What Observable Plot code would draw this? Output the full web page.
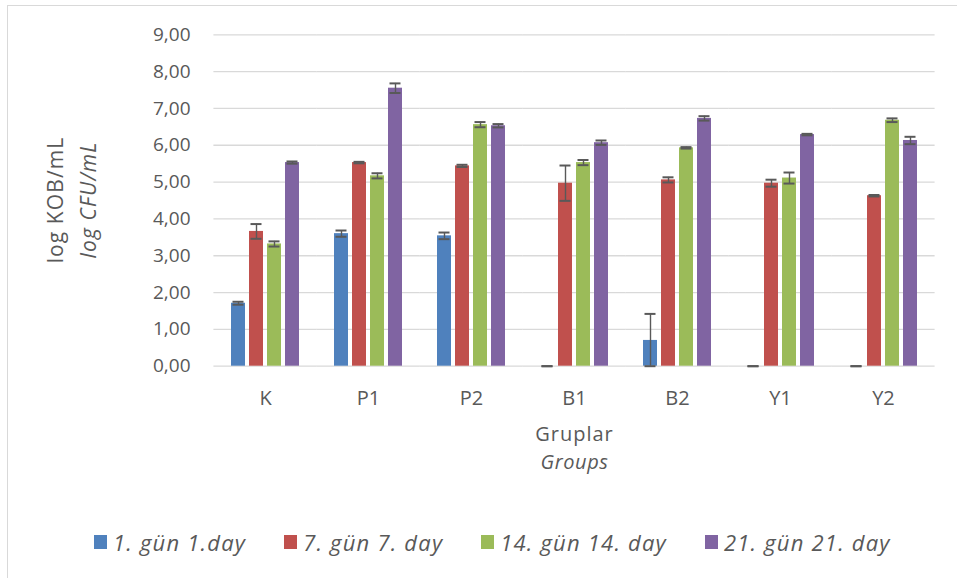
<!DOCTYPE html>
<html>
<head>
<meta charset="utf-8">
<script src="https://cdn.jsdelivr.net/npm/d3@7"></script>
<script src="https://cdn.jsdelivr.net/npm/@observablehq/plot@0.6"></script>
<style>
  body { margin: 0; background: #fff; }
  #wrap { position: relative; width: 957px; height: 578px; overflow: hidden; font-family: "Open Sans", sans-serif; color: #595959; }
  #frame { position: absolute; left: 7px; top: 5px; width: 1000px; height: 1000px; border-left: 1.5px solid #d9d9d9; border-top: 1.5px solid #d9d9d9; pointer-events: none; }
  #chart { position: absolute; left: 0; top: 0; }
  #legend { position: absolute; left: 94px; top: 527px; display: flex; align-items: center; gap: 38px; font-style: italic; font-size: 22px; letter-spacing: 1.2px; white-space: nowrap; }
  #legend .item { display: flex; align-items: center; gap: 6px; }
  #legend .sw { width: 13px; height: 14px; display: inline-block; }
</style>
</head>
<body>
<div id="wrap">
  <div id="chart"></div>
  <div id="legend"></div>
  <div id="frame"></div>
</div>
<script>
const groups = ["K", "P1", "P2", "B1", "B2", "Y1", "Y2"];
const series = ["1. gün 1.day", "7. gün 7. day", "14. gün 14. day", "21. gün 21. day"];
const colors = ["#4F81BD", "#C0504D", "#9BBB59", "#8064A2"];

const day1  = [1.71, 3.60, 3.54, 0.00, 0.70, 0.00, 0.00];
const day7  = [3.66, 5.53, 5.44, 4.97, 5.06, 4.97, 4.63];
const day14 = [3.32, 5.17, 6.56, 5.53, 5.93, 5.11, 6.68];
const day21 = [5.53, 7.55, 6.53, 6.07, 6.73, 6.29, 6.13];

const err1  = [0.04, 0.085, 0.09, 0.00, 0.72, 0.00, 0.00];
const err7  = [0.20, 0.02, 0.03, 0.48, 0.07, 0.095, 0.02];
const err14 = [0.07, 0.07, 0.07, 0.07, 0.02, 0.15, 0.05];
const err21 = [0.03, 0.13, 0.045, 0.06, 0.06, 0.02, 0.10];

const yTicks = [0, 1, 2, 3, 4, 5, 6, 7, 8, 9];
const yTitle1 = "log KOB/mL";
const yTitle2 = "log CFU/mL";
const xTitle1 = "Gruplar";
const xTitle2 = "Groups";

const values = [day1, day7, day14, day21];
const errors = [err1, err7, err14, err21];
const data = [];
groups.forEach((g, gi) => {
  series.forEach((s, si) => {
    data.push({group: g, series: s, v: values[si][gi], e: errors[si][gi]});
  });
});

const ink = "#595959";
const chart = Plot.plot({
  width: 957,
  height: 500,
  marginLeft: 211,
  marginRight: 19,
  marginTop: 34.3,
  marginBottom: 134.3,
  style: { fontFamily: "Open Sans, sans-serif", fontSize: "19px", color: ink, background: "transparent" },
  fx: { domain: groups, paddingInner: 0.317, paddingOuter: 0.1585, axis: null },
  x: { domain: series, paddingInner: 0.22, paddingOuter: 0, axis: null },
  y: { domain: [0, 9], axis: null },
  color: { domain: series, range: colors },
  marks: [
    Plot.ruleY(yTicks, { stroke: "#d9d9d9", strokeWidth: 1.3, insetLeft: -16.6, insetRight: -16.6 }),
    Plot.axisY({ ticks: yTicks, tickFormat: d => d.toFixed(2).replace(".", ","), label: null, tickSize: 0, tickPadding: 40 }),
    Plot.axisFx({ anchor: "bottom", label: null, tickSize: 0, tickPadding: 25, fontSize: "20px" }),
    Plot.barY(data, { fx: "group", x: "series", y: "v", fill: "series" }),
    Plot.ruleX(data, { fx: "group", x: "series", y1: d => Math.max(0, d.v - d.e), y2: d => d.v + d.e, stroke: ink, strokeWidth: 1.4 }),
    Plot.tickY(data, { fx: "group", x: "series", y: d => d.v + d.e, stroke: ink, strokeWidth: 2, insetLeft: 1.5, insetRight: 1.5 }),
    Plot.tickY(data, { fx: "group", x: "series", y: d => Math.max(0, d.v - d.e), stroke: ink, strokeWidth: 2, insetLeft: 1.5, insetRight: 1.5 })
  ]
});
document.getElementById("chart").appendChild(chart);

const svg = d3.select(chart);
const yc = 200;
svg.append("text")
  .attr("transform", `translate(63,${yc}) rotate(-90)`)
  .attr("text-anchor", "middle").attr("fill", ink)
  .style("font-size", "21px").style("letter-spacing", "1.1px").text(yTitle1);
svg.append("text")
  .attr("transform", `translate(96,${yc}) rotate(-90)`)
  .attr("text-anchor", "middle").attr("fill", ink)
  .style("font-size", "21px").style("letter-spacing", "1.1px").style("font-style", "italic").text(yTitle2);
svg.append("text")
  .attr("x", 574.5).attr("y", 441)
  .attr("text-anchor", "middle").attr("fill", ink)
  .style("font-size", "20px").style("letter-spacing", "1px").text(xTitle1);
svg.append("text")
  .attr("x", 574.5).attr("y", 469)
  .attr("text-anchor", "middle").attr("fill", ink)
  .style("font-size", "20px").style("letter-spacing", "0.6px").style("font-style", "italic").text(xTitle2);

const legend = d3.select("#legend");
series.forEach((s, i) => {
  const item = legend.append("div").attr("class", "item");
  item.append("span").attr("class", "sw").style("background", colors[i]);
  item.append("span").text(s);
});
</script>
</body>
</html>
